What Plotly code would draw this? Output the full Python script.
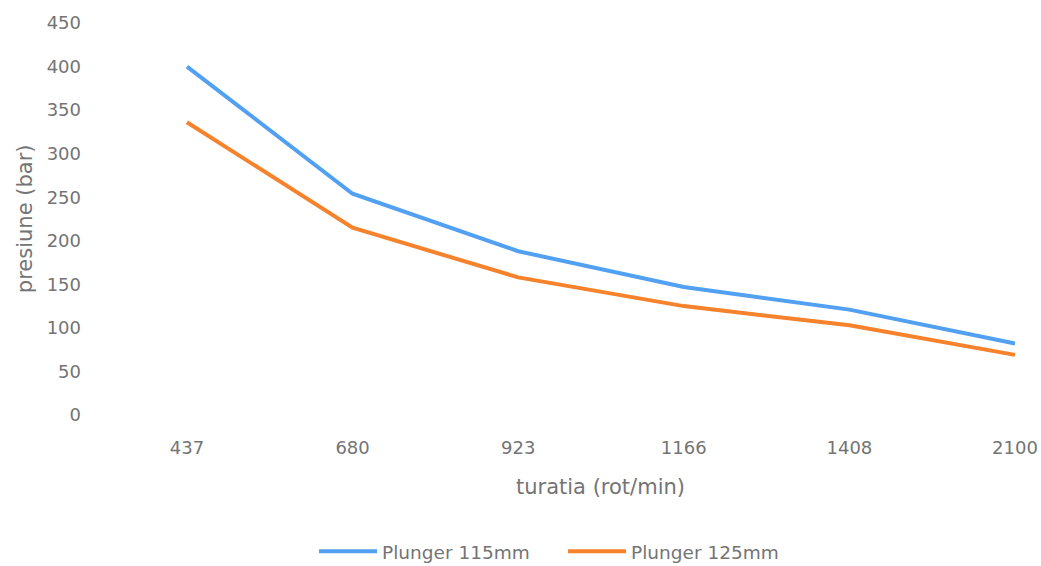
import plotly.graph_objects as go

# Engine speed (rot/min) and pressure (bar) for two plunger diameters
turatia = ["437", "680", "923", "1166", "1408", "2100"]
plunger_115 = [400, 254, 188, 147, 121, 82]
plunger_125 = [336, 215, 158, 125, 103, 69]
y_ticks = [0, 50, 100, 150, 200, 250, 300, 350, 400, 450]

FONT = "DejaVu Sans"
GREY = "#747474"

fig = go.Figure()
fig.add_trace(go.Scatter(
    x=turatia, y=plunger_115, mode="lines", name="Plunger 115mm",
    line=dict(color="#52a0f2", width=4),
))
fig.add_trace(go.Scatter(
    x=turatia, y=plunger_125, mode="lines", name="Plunger 125mm",
    line=dict(color="#f6822c", width=4),
))

fig.update_layout(
    width=1041, height=566,
    margin=dict(l=103, r=0, t=23, b=151, autoexpand=False),
    paper_bgcolor="white", plot_bgcolor="white",
    font=dict(family=FONT, size=18, color=GREY),
    showlegend=True,
    legend=dict(
        orientation="h", x=0.225, xanchor="left",
        y=-0.349, yanchor="middle",
        itemwidth=58, entrywidth=176, entrywidthmode="pixels",
        font=dict(family=FONT, size=18.5, color=GREY),
        bgcolor="rgba(0,0,0,0)",
    ),
    xaxis=dict(
        type="category", range=[-0.507, 5.157],
        showgrid=False, zeroline=False, showline=False, ticks="",
        ticklabelstandoff=20,
        tickfont=dict(family=FONT, size=18, color=GREY),
    ),
    yaxis=dict(
        range=[0, 450], tickvals=y_ticks,
        showgrid=False, zeroline=False, showline=False, ticks="",
        ticklabelstandoff=21,
        tickfont=dict(family=FONT, size=18, color=GREY),
    ),
    annotations=[
        dict(text="turatia (rot/min)", x=2.5, xref="x", y=-0.1837, yref="paper",
             xanchor="center", yanchor="middle", showarrow=False,
             font=dict(family=FONT, size=21, color=GREY)),
        dict(text="presiune (bar)", x=-0.0832, xref="paper", y=0.502, yref="paper",
             xanchor="center", yanchor="middle", textangle=-90, showarrow=False,
             font=dict(family=FONT, size=21, color=GREY)),
    ],
)

fig.write_html("out.html")
